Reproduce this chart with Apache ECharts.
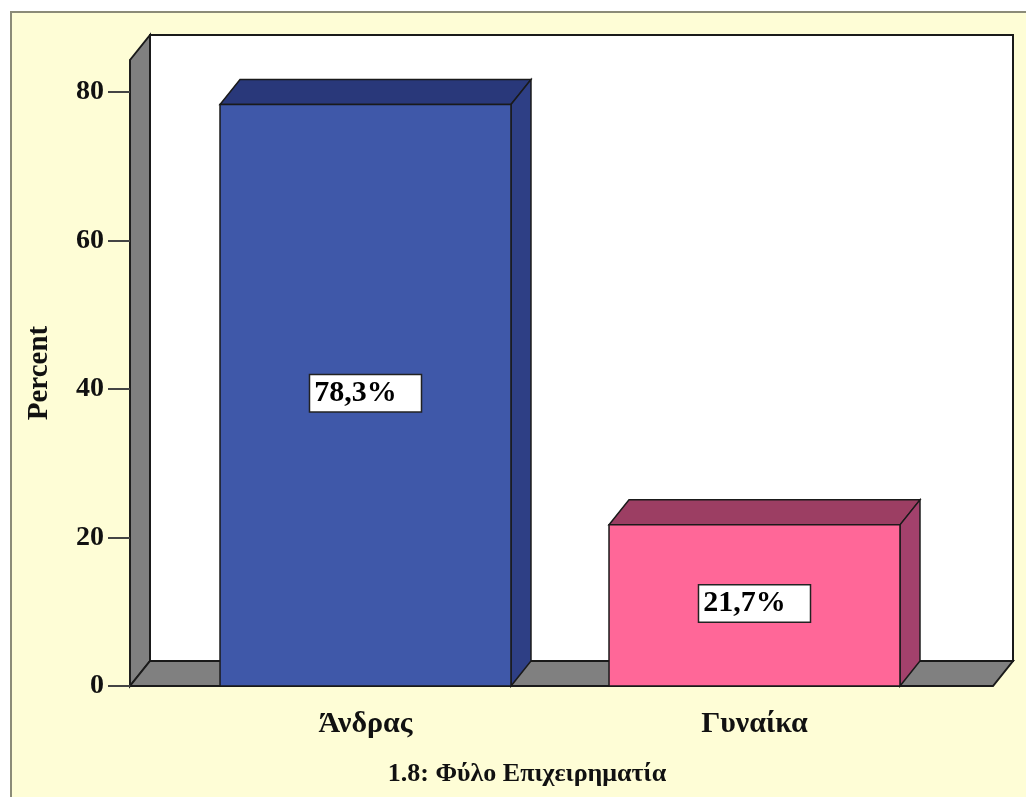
<!DOCTYPE html>
<html>
<head>
<meta charset="utf-8">
<style>
  html, body { margin: 0; padding: 0; background: #fff; }
  #chart { width: 1026px; height: 797px; }
</style>
<script src="https://cdn.jsdelivr.net/npm/echarts@6/dist/echarts.min.js"></script>
</head>
<body>
<div id="chart"></div>
<script>
// data
const categories = ['Άνδρας', 'Γυναίκα']
const percents = [78.3, 21.7]
const valueLabels = ['78,3%', '21,7%']
const yTicks = [0, 20, 40, 60, 80]
const yMax = 84.3

const FONT = '"Liberation Serif", "Times New Roman", serif'
const DEPTH = { dx: 20, dy: -25 }
const faceColors = ['#3f58a9', '#ff6798']
const topColors = ['#29387a', '#9c3e63']
const sideColors = ['#2e3f85', '#a3416c']
const EDGE = '#1a1a1a'

const chart = echarts.init( document.getElementById( 'chart' ) )

// 3D bar: front face + top + right side, label box in the middle
const renderBar = ( params, api ) => {
  const i = api.value( 0 )
  const top = api.coord( [i, api.value( 1 )] )
  const base = api.coord( [i, 0] )
  const w = api.size( [1, 0] )[0] * 0.748
  const xl = top[0] - w / 2
  const xr = top[0] + w / 2
  const yt = top[1]
  const yb = base[1]
  const { dx, dy } = DEPTH
  return {
    type : 'group',
    children : [
      {
        type : 'polygon',
        shape : { points : [[xl, yt], [xr, yt], [xr + dx, yt + dy], [xl + dx, yt + dy]] },
        style : { fill : topColors[i], stroke : EDGE, lineWidth : 1.5 }
      },
      {
        type : 'polygon',
        shape : { points : [[xr, yt], [xr + dx, yt + dy], [xr + dx, yb + dy], [xr, yb]] },
        style : { fill : sideColors[i], stroke : EDGE, lineWidth : 1.5 }
      },
      {
        type : 'rect',
        shape : { x : xl, y : yt, width : w, height : yb - yt },
        style : { fill : faceColors[i], stroke : EDGE, lineWidth : 1.5 }
      },
      {
        type : 'text',
        x : top[0],
        y : ( yt + yb ) / 2 - 2,
        style : {
          text : valueLabels[i],
          font : `bold 30px ${FONT}`,
          fill : '#000',
          align : 'center',
          verticalAlign : 'middle',
          backgroundColor : '#fff',
          borderColor : '#222',
          borderWidth : 1.5,
          padding : [3, 24, 3, 4]
        }
      }
    ]
  }
}

chart.setOption( {
  backgroundColor : '#fff',
  animation : false,
  title : {
    text : '1.8: Φύλο Επιχειρηματία',
    left : 522,
    top : 756,
    textAlign : 'center',
    textStyle : { fontFamily : FONT, fontWeight : 'bold', fontSize : 26, color : '#111' }
  },
  grid : { left : 171, right : 77, top : 60, bottom : 111 },
  xAxis : {
    type : 'category',
    data : categories,
    axisLine : { show : false },
    axisTick : { alignWithLabel : true, length : 20, lineStyle : { color : '#333', width : 2 } },
    axisLabel : { margin : 23, fontFamily : FONT, fontWeight : 'bold', fontSize : 30, color : '#111' }
  },
  yAxis : {
    type : 'value',
    min : 0,
    max : yMax,
    offset : 41,
    name : 'Percent',
    nameLocation : 'middle',
    nameRotate : 90,
    nameGap : 76,
    nameTextStyle : { fontFamily : FONT, fontWeight : 'bold', fontSize : 29, color : '#111' },
    splitLine : { show : false },
    axisLine : { show : true, lineStyle : { color : '#222', width : 1.5 } },
    axisTick : { show : true, length : 22, customValues : yTicks, lineStyle : { color : '#444', width : 2 } },
    axisLabel : { margin : 26, customValues : yTicks, fontFamily : FONT, fontWeight : 'bold', fontSize : 28, color : '#111' }
  },
  series : [
    {
      type : 'custom',
      renderItem : renderBar,
      data : percents.map( ( v, i ) => [i, v] ),
      z : 5
    }
  ]
} )

// chart frame: cream panel, back wall, left wall and floor
const y0 = chart.convertToPixel( { yAxisIndex : 0 }, 0 )
const yT = chart.convertToPixel( { yAxisIndex : 0 }, yMax )
const xL = 130
const xR = 993
const { dx, dy } = DEPTH

chart.setOption( {
  graphic : [
    {
      type : 'rect',
      z : -20,
      shape : { x : 11, y : 12, width : 1100, height : 900 },
      style : { fill : '#fefdd6', stroke : '#8b8b78', lineWidth : 2 }
    },
    {
      type : 'rect',
      z : -10,
      shape : { x : xL + dx, y : yT + dy, width : xR - xL, height : y0 - yT },
      style : { fill : '#fff', stroke : EDGE, lineWidth : 2 }
    },
    {
      type : 'polygon',
      z : -9,
      shape : { points : [[xL, y0], [xL, yT], [xL + dx, yT + dy], [xL + dx, y0 + dy]] },
      style : { fill : '#808080', stroke : EDGE, lineWidth : 2 }
    },
    {
      type : 'polygon',
      z : -9,
      shape : { points : [[xL, y0], [xR, y0], [xR + dx, y0 + dy], [xL + dx, y0 + dy]] },
      style : { fill : '#808080', stroke : EDGE, lineWidth : 2 }
    }
  ]
} )
</script>
</body>
</html>
